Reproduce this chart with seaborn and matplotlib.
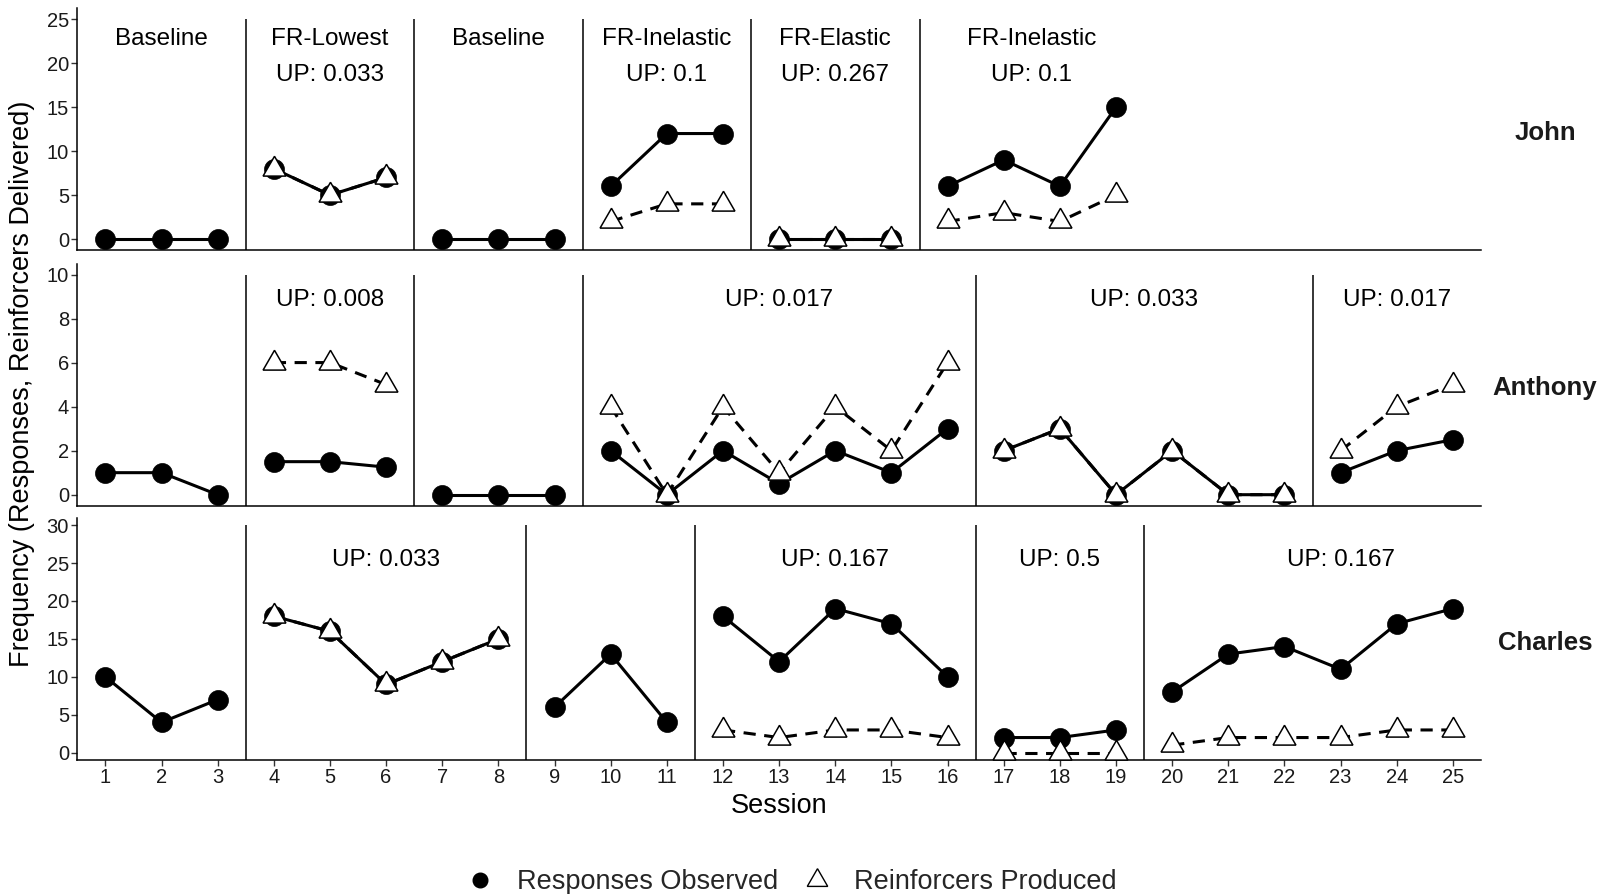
import numpy as np
import pandas as pd
import matplotlib
matplotlib.use("Agg")
import matplotlib.pyplot as plt
import matplotlib.transforms as mtransforms
from matplotlib.lines import Line2D
import seaborn as sns

# ---------------- data ----------------
sessions = list(range(1, 26))
nan = np.nan

participants = ["John", "Anthony", "Charles"]

john_responses = [0, 0, 0, 8, 5, 7, 0, 0, 0, 6, 12, 12, 0, 0, 0, 6, 9, 6, 15,
                  nan, nan, nan, nan, nan, nan]
john_reinforcers = [nan, nan, nan, 8, 5, 7, nan, nan, nan, 2, 4, 4, 0, 0, 0, 2, 3, 2, 5,
                    nan, nan, nan, nan, nan, nan]

anthony_responses = [1, 1, 0, 1.5, 1.5, 1.25, 0, 0, 0, 2, 0, 2, 0.5, 2, 1, 3,
                     2, 3, 0, 2, 0, 0, 1, 2, 2.5]
anthony_reinforcers = [nan, nan, nan, 6, 6, 5, nan, nan, nan, 4, 0, 4, 1, 4, 2, 6,
                       2, 3, 0, 2, 0, 0, 2, 4, 5]

charles_responses = [10, 4, 7, 18, 16, 9, 12, 15, 6, 13, 4, 18, 12, 19, 17, 10,
                     2, 2, 3, 8, 13, 14, 11, 17, 19]
charles_reinforcers = [nan, nan, nan, 18, 16, 9, 12, 15, nan, nan, nan, 3, 2, 3, 3, 2,
                       0, 0, 0, 1, 2, 2, 2, 3, 3]

john_phase_lines = [3.5, 6.5, 9.5, 12.5, 15.5]
anthony_phase_lines = [3.5, 6.5, 9.5, 16.5, 22.5]
charles_phase_lines = [3.5, 8.5, 11.5, 16.5, 19.5]

john_label_x = [2, 5, 8, 11, 14, 17.5]
john_label_top = ["Baseline", "FR-Lowest", "Baseline", "FR-Inelastic", "FR-Elastic", "FR-Inelastic"]
john_label_up = ["", "UP: 0.033", "", "UP: 0.1", "UP: 0.267", "UP: 0.1"]

anthony_label_x = [5, 13, 19.5, 24]
anthony_label_up = ["UP: 0.008", "UP: 0.017", "UP: 0.033", "UP: 0.017"]

charles_label_x = [6, 14, 18, 23]
charles_label_up = ["UP: 0.033", "UP: 0.167", "UP: 0.5", "UP: 0.167"]

y_ticks = {"John": [0, 5, 10, 15, 20, 25],
           "Anthony": [0, 2, 4, 6, 8, 10],
           "Charles": [0, 5, 10, 15, 20, 25, 30]}
phase_line_top = {"John": 25, "Anthony": 10, "Charles": 30}

measure_names = ["Responses Observed", "Reinforcers Produced"]

# ---------------- long table ----------------
series = {
    "John": (john_responses, john_reinforcers, john_phase_lines),
    "Anthony": (anthony_responses, anthony_reinforcers, anthony_phase_lines),
    "Charles": (charles_responses, charles_reinforcers, charles_phase_lines),
}
rows = []
for p, (resp, rein, bounds) in series.items():
    for s, r, f in zip(sessions, resp, rein):
        ph = int(np.searchsorted(bounds, s))
        rows.append((p, s, ph, measure_names[0], r))
        rows.append((p, s, ph, measure_names[1], f))
df = pd.DataFrame(rows, columns=["participant", "session", "phase", "measure", "value"])
df = df.dropna(subset=["value"])

# ---------------- style ----------------
sns.set_theme(style="ticks")
plt.rcParams["font.family"] = ["Liberation Sans", "DejaVu Sans"]

W, H = 1606, 894
fig = plt.figure(figsize=(W / 100, H / 100), dpi=100)

left_px, right_px = 77.3, 1481
panels_px = {"John": (8.3, 250.0), "Anthony": (263.5, 505.7), "Charles": (518.3, 760.0)}
ylims = {"John": (-1.25, 26.25), "Anthony": (-0.5, 10.5), "Charles": (-0.96, 30.9)}
label_y_top = {"John": 0.872}
label_y_up = {"John": 0.725, "Anthony": 0.851, "Charles": 0.828}

axes = {}
for p in participants:
    top, bot = panels_px[p]
    ax = fig.add_axes([left_px / W, (H - bot) / H, (right_px - left_px) / W, (bot - top) / H])
    axes[p] = ax

line_w = 2.2
for p in participants:
    ax = axes[p]
    sub = df[df.participant == p]
    resp = sub[sub.measure == measure_names[0]]
    rein = sub[sub.measure == measure_names[1]]
    sns.lineplot(data=resp, x="session", y="value", units="phase", estimator=None,
                 style="measure", dashes={measure_names[0]: ""},
                 markers={measure_names[0]: "o"},
                 color="black", linewidth=line_w, markersize=14.4,
                 markerfacecolor="black", markeredgecolor="black",
                 markeredgewidth=0.5, legend=False, ax=ax, zorder=3)
    sns.lineplot(data=rein, x="session", y="value", units="phase", estimator=None,
                 style="measure", dashes={measure_names[1]: (4.0, 2.8)},
                 markers={measure_names[1]: (3, 0, 0)},
                 color="black", linewidth=line_w, markersize=19,
                 markerfacecolor="white", markeredgecolor="black",
                 markeredgewidth=1.1, legend=False, ax=ax, zorder=4)

    lo, hi = ylims[p]
    ax.set_ylim(lo, hi)
    ax.set_xlim(0.5, 25.5)
    ax.vlines(series[p][2], lo, phase_line_top[p], color="black", linewidth=1.1, zorder=2)

    ax.set_yticks(y_ticks[p])
    ax.set_yticklabels([str(t) for t in y_ticks[p]])
    ax.set_xlabel("")
    ax.set_ylabel("")
    for sp in ["top", "right"]:
        ax.spines[sp].set_visible(False)
    for sp in ["left", "bottom"]:
        ax.spines[sp].set_linewidth(1.1)
        ax.spines[sp].set_color("black")
    ax.tick_params(axis="y", length=4, width=1.0, color="#333333", labelsize=14.5,
                   labelcolor="#1a1a1a", pad=2)
    if p == "Charles":
        ax.set_xticks(sessions)
        ax.set_xticklabels([str(s) for s in sessions])
        ax.tick_params(axis="x", length=4, width=1.0, color="#333333", labelsize=14.5,
                       labelcolor="#1a1a1a", pad=2)
    else:
        ax.set_xticks([])

    trans = mtransforms.blended_transform_factory(ax.transData, ax.transAxes)
    if p == "John":
        for x, t1, t2 in zip(john_label_x, john_label_top, john_label_up):
            ax.text(x, label_y_top[p], t1, transform=trans, ha="center", va="center",
                    fontsize=17.5, color="black")
            if t2:
                ax.text(x, label_y_up[p], t2, transform=trans, ha="center", va="center",
                        fontsize=17.5, color="black")
    elif p == "Anthony":
        for x, t in zip(anthony_label_x, anthony_label_up):
            ax.text(x, label_y_up[p], t, transform=trans, ha="center", va="center",
                    fontsize=17.5, color="black")
    else:
        for x, t in zip(charles_label_x, charles_label_up):
            ax.text(x, label_y_up[p], t, transform=trans, ha="center", va="center",
                    fontsize=17.5, color="black")

    ax.text((1545 - left_px) / (right_px - left_px), 0.484, p, transform=ax.transAxes,
            ha="center", va="center", fontsize=18.5, fontweight="bold", color="#1a1a1a")

fig.text(22.5 / W, 1 - 384 / H, "Frequency (Responses, Reinforcers Delivered)",
         rotation=90, ha="center", va="center", fontsize=19.5, color="black")
fig.text(779 / W, 1 - 806 / H, "Session", ha="center", va="center", fontsize=19.5,
         color="black")

handles = [
    Line2D([], [], linestyle="none", marker="o", markersize=10.5,
           markerfacecolor="black", markeredgecolor="black"),
    Line2D([], [], linestyle="none", marker=(3, 0, 0), markersize=17,
           markerfacecolor="white", markeredgecolor="black", markeredgewidth=1.0),
]
fig.legend(handles, measure_names, loc="center", bbox_to_anchor=(0.493, 1 - 882 / H),
           ncol=2, frameon=False, fontsize=19.5, handlelength=1.0, handletextpad=0.85,
           columnspacing=0.95)

fig.savefig("out.png", dpi=100, facecolor="white")
